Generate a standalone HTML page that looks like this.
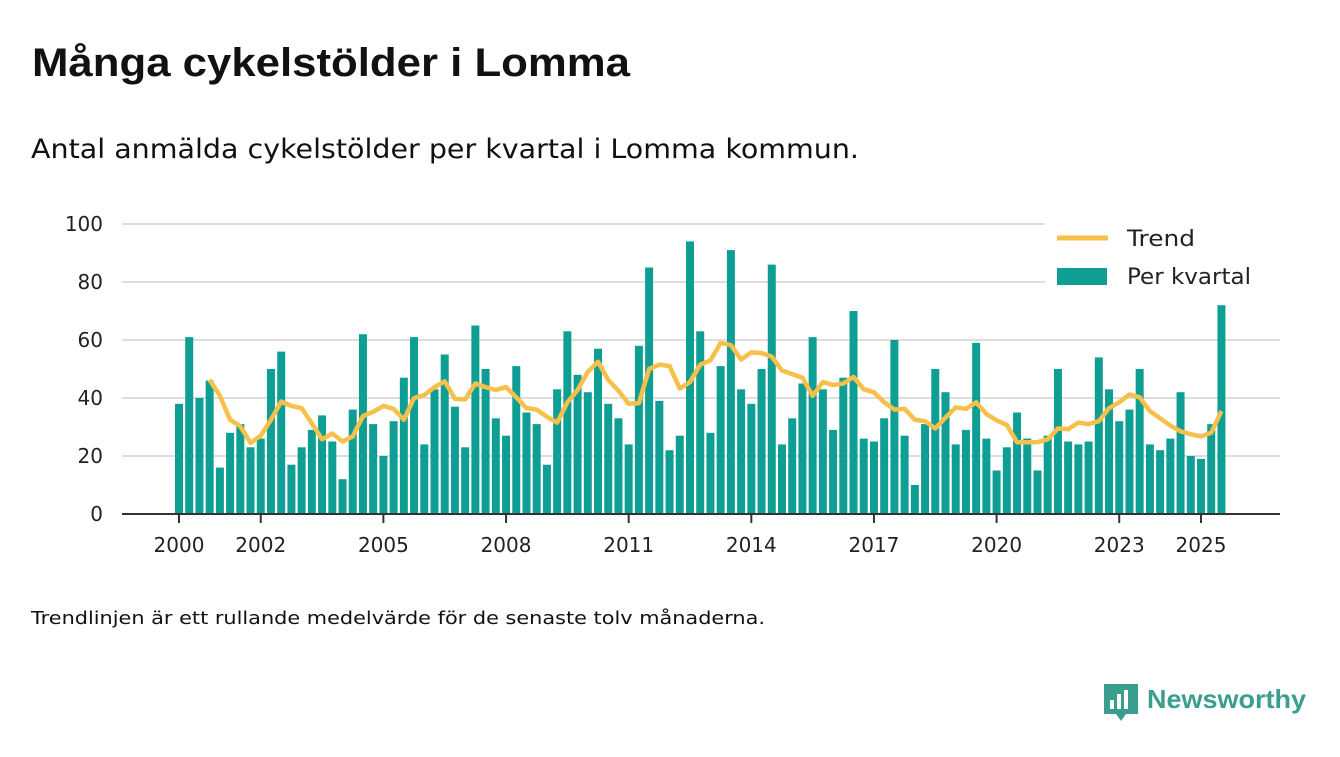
<!DOCTYPE html>
<html><head><meta charset="utf-8"><style>
body{margin:0;background:#fff;width:1340px;height:753px;overflow:hidden;font-family:"DejaVu Sans","Liberation Sans",sans-serif}
</style></head><body>
<svg id="chart" width="1340" height="753" xmlns="http://www.w3.org/2000/svg" font-family="DejaVu Sans, Liberation Sans, sans-serif">
<text x="32" y="76" font-size="40" font-weight="bold" fill="#111" font-family="Liberation Sans, sans-serif" textLength="598" lengthAdjust="spacingAndGlyphs">Många cykelstölder i Lomma</text>
<text x="31" y="158" font-size="27" fill="#111" textLength="828" lengthAdjust="spacingAndGlyphs">Antal anmälda cykelstölder per kvartal i Lomma kommun.</text>
<g id="grid"></g>
<g id="bars"></g>
<path id="trend" fill="none" stroke="#f7c04a" stroke-width="4.5" stroke-linejoin="round"/>
<line x1="122" y1="514" x2="1280" y2="514" stroke="#333" stroke-width="2"/>
<g id="xaxis"></g>
<g>
<rect x="1045" y="215" width="245" height="82" fill="#fff"/>
<line x1="1057" y1="238" x2="1108" y2="238" stroke="#f7c04a" stroke-width="5"/>
<text x="1127" y="246" font-size="22" fill="#222" textLength="68" lengthAdjust="spacingAndGlyphs">Trend</text>
<rect x="1057" y="268" width="50" height="17" fill="#0f9e94"/>
<text x="1127" y="284" font-size="22" fill="#222" textLength="124" lengthAdjust="spacingAndGlyphs">Per kvartal</text>
</g>
<text x="31" y="624" font-size="18" fill="#111" textLength="734" lengthAdjust="spacingAndGlyphs">Trendlinjen är ett rullande medelvärde för de senaste tolv månaderna.</text>
<g>
<path d="M1104 684 h34 v30 h-12 l-5 7 l-5 -7 h-12 z" fill="#3a9e8f"/>
<rect x="1110" y="700" width="4" height="9" fill="#fff"/><rect x="1117" y="694" width="4" height="15" fill="#fff"/><rect x="1124" y="690" width="4" height="19" fill="#fff"/>
<text x="1147" y="708" font-size="26" font-weight="bold" fill="#3a9e8f" font-family="Liberation Sans, sans-serif" textLength="159" lengthAdjust="spacingAndGlyphs">Newsworthy</text>
</g>
</svg>
<script>
const values=[38,61,40,46,16,28,31,23,26,50,56,17,23,29,34,25,12,36,62,31,20,32,47,61,24,43,55,37,23,65,50,33,27,51,35,31,17,43,63,48,42,57,38,33,24,58,85,39,22,27,94,63,28,51,91,43,38,50,86,24,33,45,61,43,29,47,70,26,25,33,60,27,10,31,50,42,24,29,59,26,15,23,35,26,15,27,50,25,24,25,54,43,32,36,50,24,22,26,42,20,19,31,72];
const yTicks=[0,20,40,60,80,100];
const xYears=[2000,2002,2005,2008,2011,2014,2017,2020,2023,2025];
const startYear=2000;
const NS="http://www.w3.org/2000/svg";
const y=v=>514-v*2.9;
const xq=i=>179+i*10.22;
const xy=yr=>179+(yr-startYear)*40.88;
const grid=document.getElementById('grid'),bars=document.getElementById('bars'),xa=document.getElementById('xaxis');
yTicks.forEach(t=>{
 if(t>0){const l=document.createElementNS(NS,'line');
 l.setAttribute('x1',122);l.setAttribute('x2',1280);l.setAttribute('y1',y(t));l.setAttribute('y2',y(t));
 l.setAttribute('stroke','#ddd');l.setAttribute('stroke-width',2);
 
 
 grid.appendChild(l);}
 const tx=document.createElementNS(NS,'text');
 tx.setAttribute('x',103);tx.setAttribute('y',y(t)+7);tx.setAttribute('text-anchor','end');tx.setAttribute('font-size',20);tx.setAttribute('fill','#222');
 tx.textContent=t;
 
 
 grid.appendChild(tx);
});
values.forEach((v,i)=>{
 const r=document.createElementNS(NS,'rect');
 r.setAttribute('x',xq(i)-4);r.setAttribute('width',8);r.setAttribute('y',y(v));r.setAttribute('height',v*2.9);r.setAttribute('fill','#0f9e94');
 
 
 bars.appendChild(r);
});
let d='';
for(let i=3;i<values.length;i++){const m=(values[i]+values[i-1]+values[i-2]+values[i-3])/4;d+=(i==3?'M':'L')+xq(i)+' '+y(m);}
document.getElementById('trend').setAttribute('d',d);
xYears.forEach(yr=>{
 const l=document.createElementNS(NS,'line');
 l.setAttribute('x1',xy(yr));l.setAttribute('x2',xy(yr));l.setAttribute('y1',514);l.setAttribute('y2',523);l.setAttribute('stroke','#333');l.setAttribute('stroke-width',2);
 
 
 xa.appendChild(l);
 const tx=document.createElementNS(NS,'text');
 tx.setAttribute('x',xy(yr));tx.setAttribute('y',552);tx.setAttribute('text-anchor','middle');tx.setAttribute('font-size',20);tx.setAttribute('fill','#222');
 tx.textContent=yr;
 
 
 xa.appendChild(tx);
});
</script>
</body></html>
